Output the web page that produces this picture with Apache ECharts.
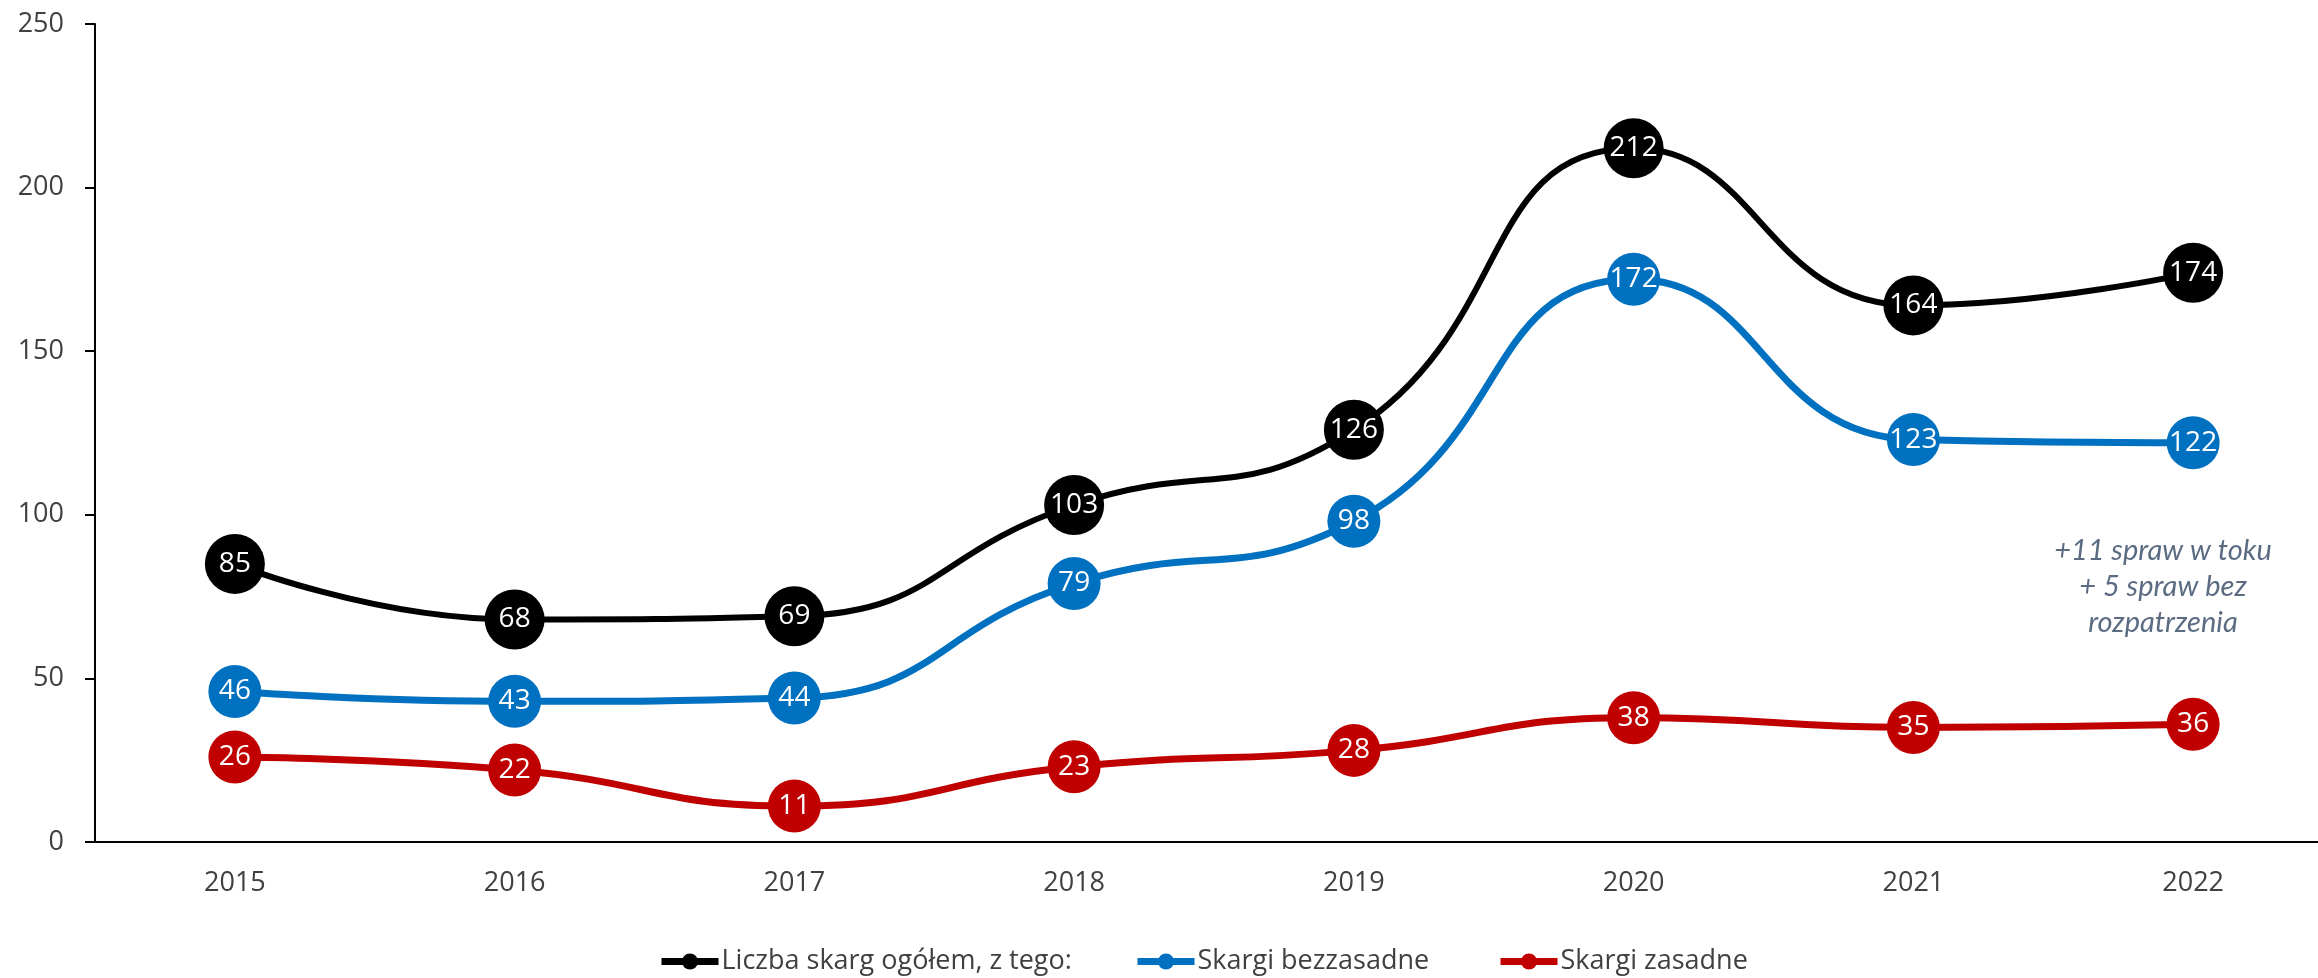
<!DOCTYPE html>
<html>
<head>
<meta charset="utf-8">
<script src="https://cdn.jsdelivr.net/npm/echarts@6/dist/echarts.min.js"></script>
<style>
html,body{margin:0;padding:0;background:#fff;}
#chart{width:2318px;height:978px;}
</style>
</head>
<body>
<div id="chart"></div>
<script>
const categories = ['2015','2016','2017','2018','2019','2020','2021','2022'];
const totalValues = [85, 68, 69, 103, 126, 212, 164, 174];
const unfoundedValues = [46, 43, 44, 79, 98, 172, 123, 122];
const foundedValues = [26, 22, 11, 23, 28, 38, 35, 36];
const seriesNames = ['Liczba skarg ogółem, z tego:', 'Skargi bezzasadne', 'Skargi zasadne'];
const yTicks = [0, 50, 100, 150, 200, 250];
const noteLines = ['+11 spraw w toku', '+ 5 spraw bez', 'rozpatrzenia'];

const chart = echarts.init(document.getElementById('chart'), null, {renderer: 'canvas'});
const FONT = 'Open Sans';

function mkSeries(name, data, color, size, width, z) {
  return {
    name: name,
    type: 'line',
    data: data,
    smooth: 0.5,
    symbol: 'circle',
    symbolSize: size,
    z: z,
    lineStyle: {color: color, width: width},
    itemStyle: {color: color},
    label: {
      show: true,
      position: 'inside',
      color: '#ffffff',
      fontFamily: FONT,
      fontSize: 28
    },
    emphasis: {disabled: true}
  };
}

function mkLegend(name, left) {
  return {
    top: 943,
    left: left,
    padding: 5,
    itemWidth: 57,
    itemHeight: 20,
    lineStyle: {width: 7},
    textStyle: {color: '#404040', fontFamily: FONT, fontSize: 27, padding: [0, 0, 0, -2]},
    data: [name]
  };
}

chart.setOption({
  animation: false,
  backgroundColor: '#ffffff',
  grid: {left: 95, top: 24, bottom: 136, width: 2238, outerBoundsMode: 'none', containLabel: false},
  xAxis: {
    type: 'category',
    data: categories,
    boundaryGap: true,
    axisLine: {lineStyle: {color: '#000000', width: 2}},
    axisTick: {show: false},
    axisLabel: {color: '#404040', fontFamily: FONT, fontSize: 27, margin: 28},
    splitLine: {show: false}
  },
  yAxis: {
    type: 'value',
    min: yTicks[0],
    max: yTicks[yTicks.length - 1],
    interval: 50,
    axisLine: {show: true, lineStyle: {color: '#000000', width: 2}},
    axisTick: {show: true, length: 10, lineStyle: {color: '#000000', width: 2}},
    axisLabel: {color: '#404040', fontFamily: FONT, fontSize: 27, margin: 31},
    splitLine: {show: false}
  },
  legend: [
    mkLegend(seriesNames[0], 653),
    mkLegend(seriesNames[1], 1129),
    mkLegend(seriesNames[2], 1492)
  ],
  graphic: [{
    type: 'text',
    x: 2163,
    y: 533,
    style: {
      text: noteLines.join('\n'),
      align: 'center',
      fill: '#5b6b82',
      font: 'italic 29px Lato',
      lineHeight: 36
    }
  }],
  series: [
    mkSeries(seriesNames[0], totalValues, '#000000', 60, 6, 3),
    mkSeries(seriesNames[1], unfoundedValues, '#0070C0', 53, 7, 2),
    mkSeries(seriesNames[2], foundedValues, '#C00000', 53, 7, 1)
  ]
});
</script>
</body>
</html>
